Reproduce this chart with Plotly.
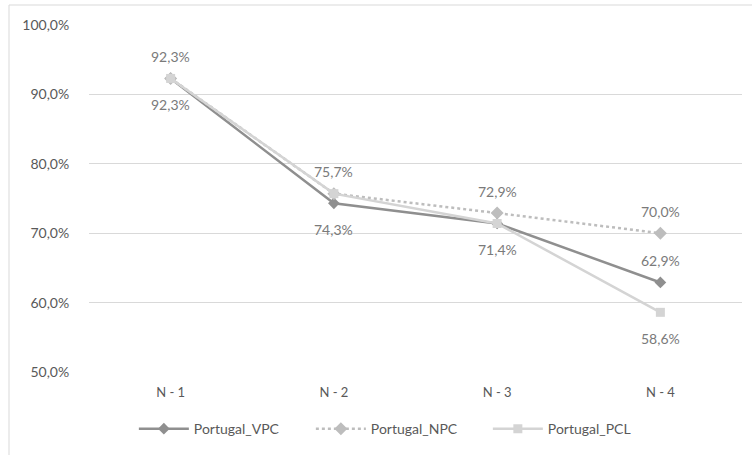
import plotly.graph_objects as go

categories = ["N - 1", "N - 2", "N - 3", "N - 4"]
vpc = [92.3, 74.3, 71.4, 62.9]
npc = [92.3, 75.7, 72.9, 70.0]
pcl = [92.3, 75.7, 71.4, 58.6]

# which label is shown for each point, and on which side
vpc_label_side = ["below", "below", "below", "above"]
npc_label_side = ["above", "above", "above", "above"]
pcl_label_side = [None, None, None, "below"]

FONT = "Lato"
TEXT = "#595959"

fig = go.Figure()

fig.add_trace(go.Scatter(
    x=categories, y=vpc, name="Portugal_VPC", mode="lines+markers",
    line=dict(color="#8f8f8f", width=2.5),
    marker=dict(symbol="diamond", size=9, color="#8f8f8f"),
))
fig.add_trace(go.Scatter(
    x=categories, y=npc, name="Portugal_NPC", mode="lines+markers",
    line=dict(color="#bdbdbd", width=2.5, dash="dot"),
    marker=dict(symbol="diamond", size=10, color="#bdbdbd"),
))
fig.add_trace(go.Scatter(
    x=categories, y=pcl, name="Portugal_PCL", mode="lines+markers",
    line=dict(color="#d4d4d4", width=2.5),
    marker=dict(symbol="square", size=9, color="#d4d4d4"),
))


def fmt(v):
    return f"{v:.1f}".replace(".", ",") + "%"


for values, sides in [(vpc, vpc_label_side), (npc, npc_label_side), (pcl, pcl_label_side)]:
    for cat, v, side in zip(categories, values, sides):
        if side is None:
            continue
        fig.add_annotation(
            x=cat, y=v, text=fmt(v), showarrow=False,
            yshift=22 if side == "above" else -26,
            font=dict(family=FONT, size=14, color="#7a7a7a"),
        )

# chart frame (top and left edges visible)
fig.add_shape(type="line", xref="paper", yref="paper",
              x0=-0.1225, x1=1.05, y0=1.0576, y1=1.0576,
              line=dict(color="#d9d9d9", width=1))
fig.add_shape(type="line", xref="paper", yref="paper",
              x0=-0.1225, x1=-0.1225, y0=1.0576, y1=-0.3,
              line=dict(color="#d9d9d9", width=1))

fig.update_layout(
    width=752, height=455,
    margin=dict(l=89, r=10, t=25, b=83, autoexpand=False),
    paper_bgcolor="white", plot_bgcolor="white",
    font=dict(family=FONT, size=14, color=TEXT),
    showlegend=True,
    legend=dict(
        orientation="h", xref="container", yref="container",
        x=0.178, y=0.057, xanchor="left", yanchor="middle",
        font=dict(family=FONT, size=14, color=TEXT),
        entrywidth=112, itemwidth=50,
    ),
)
fig.update_xaxes(
    range=[-0.5, 3.5], showgrid=False, zeroline=False, showline=False,
    automargin=False,
    ticks="outside", ticklen=8, tickcolor="rgba(0,0,0,0)",
    tickfont=dict(family=FONT, size=13, color=TEXT),
)
fig.update_yaxes(
    range=[50, 100], showgrid=True, gridcolor="#d9d9d9", gridwidth=1,
    zeroline=False, showline=False, automargin=False,
    tickvals=[50, 60, 70, 80, 90, 100],
    ticktext=["50,0%", "60,0%", "70,0%", "80,0%", "90,0%", "100,0%"],
    ticks="outside", ticklen=16, tickcolor="rgba(0,0,0,0)",
    tickfont=dict(family=FONT, size=14, color=TEXT),
)

# drop the browser's default page margin so the figure sits at (0, 0)
fig.write_html(
    "out.html",
    config={"displayModeBar": False},
    post_script="document.body.style.margin='0';",
)
